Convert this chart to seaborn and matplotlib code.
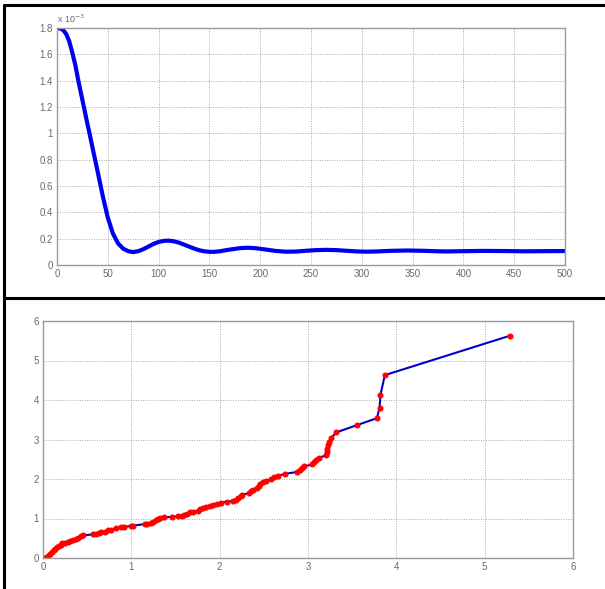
import matplotlib
matplotlib.use("Agg")
import matplotlib.pyplot as plt
from matplotlib.lines import Line2D
import seaborn as sns
import pandas as pd

# ---------------- data ----------------
# Top panel (y in units of 1e-3)
top_x = [0, 3, 6, 9, 12, 15, 18, 21, 24, 27, 30, 32, 35, 40, 45, 50, 55, 60, 65, 70, 75,
         80, 85, 90, 95, 100, 105, 110, 115, 120, 125, 130, 135, 140, 145, 150,
         155, 160, 170, 180, 188, 195, 205, 215, 225, 235, 245, 255, 265, 275,
         285, 295, 305, 315, 330, 345, 360, 375, 385, 400, 420, 440, 460, 480, 500]
top_y = [1.80, 1.797, 1.785, 1.755, 1.70, 1.615, 1.52, 1.40, 1.29, 1.18, 1.07, 1.0,
         0.89, 0.71, 0.525, 0.36, 0.24, 0.165, 0.125, 0.105, 0.098,
         0.105, 0.12, 0.14, 0.16, 0.175, 0.183, 0.185, 0.18, 0.17, 0.155, 0.14,
         0.125, 0.112, 0.104, 0.10,
         0.10, 0.104, 0.117, 0.128, 0.131, 0.128, 0.118, 0.107, 0.101, 0.102,
         0.108, 0.113, 0.115, 0.113,
         0.108, 0.103, 0.101, 0.103, 0.108, 0.110, 0.108, 0.104, 0.103, 0.105,
         0.107, 0.106, 0.104, 0.105, 0.106]
top_xticks = [0, 50, 100, 150, 200, 250, 300, 350, 400, 450, 500]
top_yticks = [0, 0.2, 0.4, 0.6, 0.8, 1.0, 1.2, 1.4, 1.6, 1.8]
top_yticklabels = ["0", "0.2", "0.4", "0.6", "0.8", "1", "1.2", "1.4", "1.6", "1.8"]

# Bottom panel
bot_x = [0.00, 0.02, 0.04, 0.06, 0.08, 0.10, 0.12, 0.14, 0.16, 0.18, 0.20, 0.22,
         0.25, 0.28, 0.31, 0.34, 0.37, 0.40, 0.43, 0.45,
         0.57, 0.60, 0.63, 0.66, 0.70, 0.74, 0.77, 0.83, 0.88, 0.92, 1.00, 1.02,
         1.16, 1.18, 1.22, 1.25, 1.28, 1.30, 1.33, 1.37, 1.46, 1.53, 1.57, 1.60,
         1.63, 1.66, 1.70, 1.75, 1.78, 1.81, 1.84, 1.89, 1.93, 1.97, 2.02, 2.08,
         2.15, 2.18, 2.21, 2.24, 2.25, 2.33, 2.35, 2.38, 2.42, 2.44, 2.46, 2.49,
         2.53, 2.58, 2.62, 2.66, 2.74, 2.88, 2.91, 2.93, 2.96, 3.05, 3.07, 3.09,
         3.12, 3.20, 3.21, 3.22, 3.23, 3.24, 3.26, 3.32, 3.55, 3.78, 3.81, 3.82,
         3.87, 5.29]
bot_y = [0.00, 0.01, 0.02, 0.05, 0.09, 0.14, 0.19, 0.23, 0.27, 0.31, 0.34, 0.37,
         0.39, 0.41, 0.43, 0.45, 0.48, 0.51, 0.55, 0.57,
         0.60, 0.62, 0.64, 0.66, 0.67, 0.70, 0.72, 0.75, 0.78, 0.79, 0.81, 0.82,
         0.86, 0.86, 0.88, 0.91, 0.96, 0.99, 1.01, 1.03, 1.04, 1.06, 1.07, 1.09,
         1.12, 1.16, 1.17, 1.19, 1.23, 1.26, 1.28, 1.31, 1.35, 1.37, 1.40, 1.43,
         1.44, 1.48, 1.52, 1.57, 1.60, 1.64, 1.69, 1.73, 1.77, 1.82, 1.88, 1.93,
         1.96, 1.99, 2.04, 2.08, 2.13, 2.18, 2.23, 2.28, 2.32, 2.37, 2.43, 2.49,
         2.53, 2.60, 2.68, 2.77, 2.86, 2.93, 3.03, 3.18, 3.36, 3.54, 3.80, 4.13,
         4.63, 5.63]
bot_ticks = [0, 1, 2, 3, 4, 5, 6]

# ---------------- style ----------------
sns.set_style("white")
plt.rcParams["font.family"] = ["Liberation Sans", "DejaVu Sans"]

W, H = 605, 589
fig = plt.figure(figsize=(W / 100, H / 100), dpi=100)
fig.patch.set_facecolor("white")

def px_axes(l, t, r, b):
    return fig.add_axes([l / W, 1 - b / H, (r - l) / W, (b - t) / H])

ax1 = px_axes(57, 28, 565, 265)
ax2 = px_axes(43, 321, 573, 558)

TXT = "#6a6a6a"
SP = "#9a9a9a"

def style(ax):
    for s in ax.spines.values():
        s.set_color(SP)
        s.set_linewidth(1.0)
        s.set_visible(True)
    ax.grid(True, linestyle=(0, (1, 1.5)), color="#a8a8a8", linewidth=0.7)
    ax.tick_params(direction="in", length=3, width=0.8, color=SP,
                   labelcolor=TXT, labelsize=7, pad=3)
    ax.set_xlabel("")
    ax.set_ylabel("")
    ax.set_axisbelow(True)

# top
df1 = pd.DataFrame({"x": top_x, "y": top_y})
sns.lineplot(data=df1, x="x", y="y", ax=ax1, color="#0000ee", linewidth=3.0,
             sort=False, estimator=None)
ax1.set_xlim(0, 500)
ax1.set_ylim(0, 1.8)
ax1.set_xticks(top_xticks)
ax1.set_yticks(top_yticks)
ax1.set_yticklabels(top_yticklabels)
style(ax1)
ax1.text(0.0, 1.012, r"x 10$^{-3}$", transform=ax1.transAxes, fontsize=6.5,
         color=TXT, ha="left", va="bottom")

# bottom
df2 = pd.DataFrame({"x": bot_x, "y": bot_y})
sns.lineplot(data=df2, x="x", y="y", ax=ax2, color="#0000cc", linewidth=1.5,
             sort=False, estimator=None, marker="o", markersize=3.6,
             markerfacecolor="#ff0000", markeredgecolor="#ff0000")
ax2.set_xlim(0, 6)
ax2.set_ylim(0, 6)
ax2.set_xticks(bot_ticks)
ax2.set_yticks(bot_ticks)
style(ax2)

# outer black frame lines (figure pixel coords)
def fline(x0, y0, x1, y1, lw=2.2):
    fig.add_artist(Line2D([x0 / W, x1 / W], [1 - y0 / H, 1 - y1 / H],
                          transform=fig.transFigure, color="black",
                          linewidth=lw, solid_capstyle="butt"))

fline(3, 5.3, W, 5.3)
fline(3, 298, W, 298)
fline(4, 4, 4, H)

fig.savefig("out.png", dpi=100)
